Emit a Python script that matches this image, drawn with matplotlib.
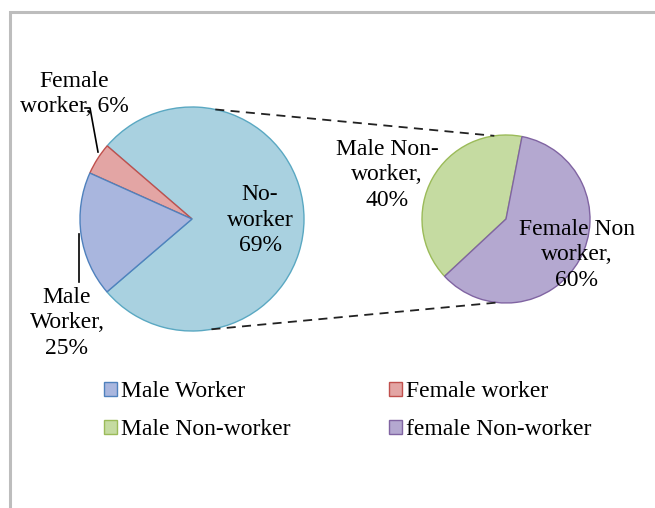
import numpy as np
import matplotlib.pyplot as plt

plt.rcParams['font.family'] = ['Liberation Serif', 'DejaVu Serif']

# main pie (slice sizes as drawn), labels as printed on the chart
main_names = ['No-worker', 'Female worker', 'Male Worker']
main_sizes = [77.4, 4.6, 18.0]
main_labels = ['No-\nworker\n69%', 'Female\nworker, 6%', 'Male\nWorker,\n25%']

# secondary pie: split of the non-workers
sub_names = ['Male Non-worker', 'female Non-worker']
sub_sizes = [40, 60]
sub_labels = ['Male Non-\nworker,\n40%', 'Female Non\nworker,\n60%']

main_colors = ['#a9d1e0', '#e3a5a4', '#a9b6de']
main_edges = ['#5aa8c2', '#c0504d', '#4f81bd']
sub_colors = ['#c5dba1', '#b4a8d0']
sub_edges = ['#9bbb59', '#8064a2']

W, H = 655, 508
fig = plt.figure(figsize=(W / 100, H / 100), dpi=100)
ax = fig.add_axes([0, 0, 1, 1])


def Y(py):
    return H - py


c1, r1 = (192, Y(219)), 112
c2, r2 = (506, Y(219)), 84

w1, _ = ax.pie(main_sizes, colors=main_colors, startangle=220.6, center=c1, radius=r1,
               wedgeprops=dict(linewidth=1.0), frame=True)
for w, ec in zip(w1, main_edges):
    w.set_edgecolor(ec)
w2, _ = ax.pie(sub_sizes, colors=sub_colors, startangle=79, center=c2, radius=r2,
               wedgeprops=dict(linewidth=1.0), frame=True)
for w, ec in zip(w2, sub_edges):
    w.set_edgecolor(ec)

ax.set_aspect('auto')
ax.set_xlim(0, W)
ax.set_ylim(0, H)
ax.axis('off')

# connector lines between the pies
for a1, a2 in [(78, 98), (-80, -96)]:
    p1 = (c1[0] + r1 * np.cos(np.radians(a1)), c1[1] + r1 * np.sin(np.radians(a1)))
    p2 = (c2[0] + r2 * np.cos(np.radians(a2)), c2[1] + r2 * np.sin(np.radians(a2)))
    ax.plot([p1[0], p2[0]], [p1[1], p2[1]], color='#222222', lw=1.3, ls=(0, (5, 3.5)))

fs = 17
ls = 1.27
ax.text(260, Y(220), main_labels[0], ha='center', va='center', fontsize=fs, linespacing=ls)
ax.text(74, Y(94), main_labels[1], ha='center', va='center', fontsize=fs, linespacing=ls)
ax.text(67, Y(323), main_labels[2], ha='center', va='center', fontsize=fs, linespacing=ls)
ax.text(387, Y(175), sub_labels[0], ha='center', va='center', fontsize=fs, linespacing=ls)
ax.text(577, Y(255), sub_labels[1], ha='center', va='center', fontsize=fs, linespacing=ls)

# leader lines
ax.plot([85, 90, 98], [Y(108), Y(108), Y(152)], color='black', lw=1.2)
ax.plot([79, 79], [Y(282), Y(234)], color='black', lw=1.2)

# chart border (top and left)
ax.plot([10, 10, W], [0, Y(12), Y(12)], color='#bdbdbd', lw=2.2, solid_joinstyle='miter')

handles = [w1[2], w2[0], w1[1], w2[1]]
names = ['Male Worker', 'Male Non-worker', 'Female worker', 'female Non-worker']
ax.legend(handles, names, loc='upper left', bbox_to_anchor=(104, Y(381)),
          bbox_transform=ax.transData, ncol=2, frameon=False, fontsize=fs,
          handlelength=0.55, handleheight=0.55, handletextpad=0.15,
          columnspacing=4.2, labelspacing=0.72, borderpad=0, borderaxespad=0)

fig.savefig('out.png', dpi=100)
